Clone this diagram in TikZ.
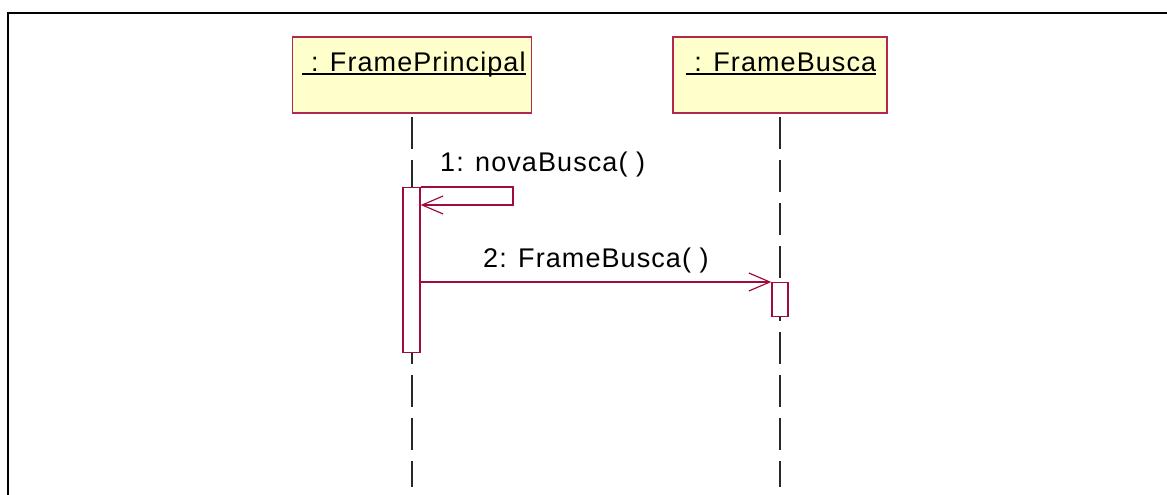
\documentclass[tikz,border=0pt]{standalone}
\usepackage{fontspec}
\setmainfont[LetterSpace=4]{Liberation Sans}
\usetikzlibrary{arrows.meta}

\definecolor{umlfill}{RGB}{255,255,204}
\definecolor{umlline}{RGB}{160,10,60}
\definecolor{umlborder}{RGB}{180,40,80}
\definecolor{lifegray}{RGB}{40,40,40}

\tikzset{
  objbox/.style={draw=umlborder,fill=umlfill,line width=1.3pt,
    minimum height=76pt,inner sep=0pt},
  objname/.style={inner sep=0pt,anchor=base,
    font=\fontsize{27}{31}\selectfont},
  activation/.style={draw=umlline,fill=white,line width=1.2pt,
    inner sep=0pt,anchor=north},
  lifeline/.style={draw=lifegray,line width=1.2pt,
    dash pattern=on 32pt off 11pt,dash phase=40pt},
  msg/.style={draw=umlline,line width=1.2pt,
    -{Straight Barb[length=21pt,width=18pt,line width=1.2pt]}},
  msglabel/.style={inner sep=0pt,anchor=base west,
    font=\fontsize{27}{31}\selectfont}
}

\begin{document}
\begin{tikzpicture}[x=1pt,y=-1pt]

\useasboundingbox (0,0) rectangle (1167,495);

\draw[line width=2pt]
(8,495) -- (8,13.5) -- (1168,13.5);

\node[objbox,minimum width=239pt]
(FP)
at (412,75)
{};

\node[objbox,minimum width=214pt]
(FB)
at (780,75)
{};

\node[objname]
(FPname)
at (414,71)
{\ : FramePrincipal};

\node[objname]
(FBname)
at (781,71)
{\ : FrameBusca};

\draw[line width=2.2pt] ([yshift=-3pt]FPname.base west) -- ([yshift=-3pt]FPname.base east);
\draw[line width=2.2pt] ([yshift=-3pt]FBname.base west) -- ([yshift=-3pt]FBname.base east);

\coordinate (FPend) at (412,487);
\coordinate (FBend) at (780,487);

\draw[lifeline] (FP.south) -- (FPend);
\draw[lifeline] (FB.south) -- (FBend);

\node[activation,minimum width=17pt,minimum height=165pt]
(A1)
at (411.5,187)
{};

\node[activation,minimum width=16pt,minimum height=34pt]
(A2)
at (780,282)
{};

\coordinate (selfA) at (513,187);
\coordinate (selfB) at (513,205);

\draw[msg] (A1.north east) -- (selfA) -- (selfB) -- (A1.east |- selfB);
\draw[msg] (A1.east |- A2.north) -- (A2.north west);

\node[msglabel]
(M1)
at (440,171)
{1: novaBusca( )};

\node[msglabel]
(M2)
at (483,267)
{2: FrameBusca( )};

\end{tikzpicture}
\end{document}
